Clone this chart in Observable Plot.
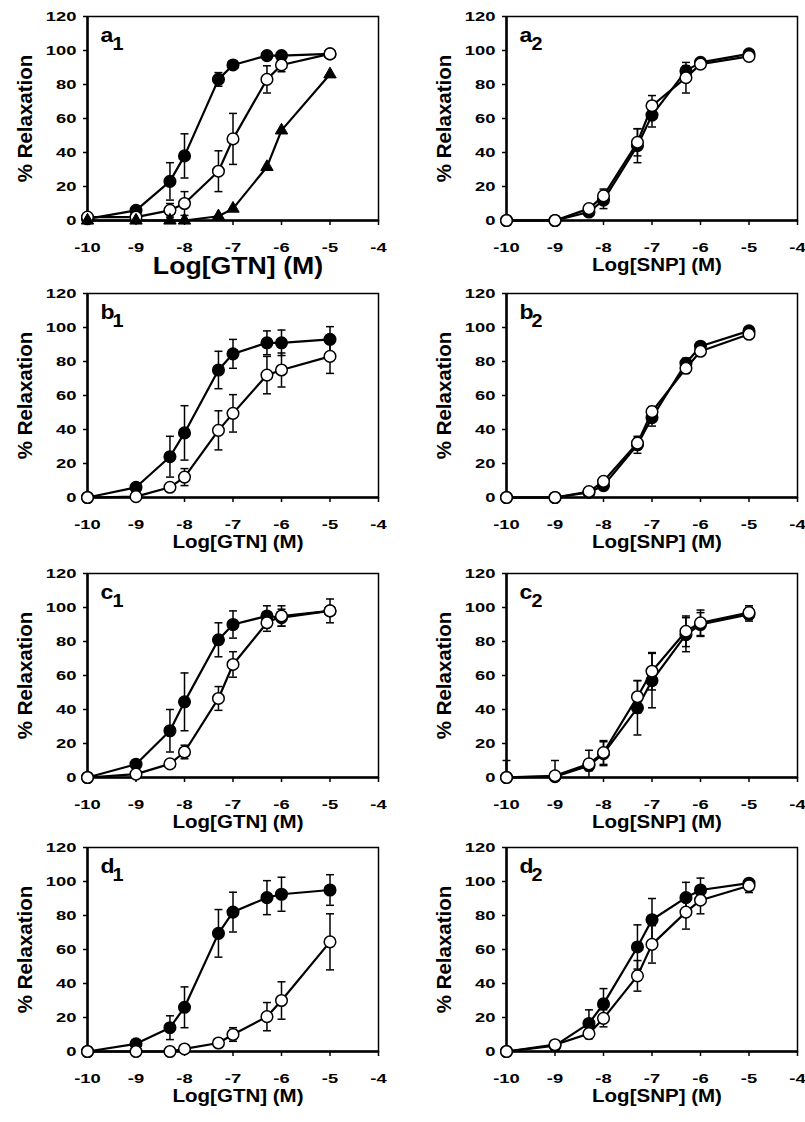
<!DOCTYPE html>
<html><head><meta charset="utf-8">
<script src="https://cdn.jsdelivr.net/npm/d3@7"></script>
<script src="https://cdn.jsdelivr.net/npm/@observablehq/plot@0.6"></script>
<style>
html,body{margin:0;padding:0;background:#fff;}
#fig{position:relative;width:805px;height:1122px;overflow:hidden;background:#fff;}
.panel{position:absolute;}
.panel svg{overflow:visible;background:transparent !important;max-width:none !important;}
</style></head><body><div id="fig"></div>
<script>
// ---- shared values ----
const doses = [-10, -9, -8.3, -8, -7.3, -7, -6.3, -6, -5];
const xTicks = [-10, -9, -8, -7, -6, -5, -4];
const yTicks = [0, 20, 40, 60, 80, 100, 120];
const drugs = ["GTN", "SNP"];
const letters = ["a", "b", "c", "d"];

// ---- GTN panels (column 1) ----
const a1Filled    = [1, 6, 23, 38, 83, 91.5, 97, 97, 98];
const a1FilledSem = [0, 1, 11, 13, 4, 2, 2, 2, 1];
const a1Open      = [2, 2, 6, 10, 29, 48, 83, 91.5, 98];
const a1OpenSem   = [0, 1, 4, 7, 12, 15, 8, 4, 1];
const a1Triangle  = [0, 0, 0, 0, 2.5, 7, 31.5, 53, 86];

const b1Filled    = [0, 6, 24, 38, 75, 84.5, 91, 91, 93];
const b1FilledSem = [0, 1, 12, 16, 11, 8.5, 7, 7.5, 7.5];
const b1Open      = [0, 0.5, 6, 12, 39.5, 49.5, 72, 75, 83];
const b1OpenSem   = [0, 0, 1, 5, 11.5, 11, 11, 10, 10];

const c1Filled    = [0, 7.8, 27.5, 44.5, 81, 90, 95, 94, 98];
const c1FilledSem = [0, 1, 12.5, 17, 10, 8, 6, 5, 2];
const c1Open      = [0, 2, 8, 15, 46.5, 66.5, 91, 95, 98];
const c1OpenSem   = [0, 1, 2, 4, 7, 7.5, 5, 6, 7];

const d1Filled    = [0, 4.5, 14, 26, 69.5, 82, 90.5, 92.5, 95];
const d1FilledSem = [0, 1, 7, 12, 14, 11.7, 10, 10, 9];
const d1Open      = [0, 0, 0, 1.5, 5, 10, 20.5, 30, 64.5];
const d1OpenSem   = [0, 0, 0, 1, 2, 4, 8.3, 11, 16.5];

// ---- SNP panels (column 2) ----
const a2Filled    = [0, 0, 5, 12, 44, 62, 88, 93, 98];
const a2FilledSem = [0, 0, 2, 5, 10, 7, 3, 2, 1];
const a2Open      = [0, 0, 7, 14.5, 46, 67.5, 84, 92, 96.5];
const a2OpenSem   = [0, 0, 1, 4, 8, 6, 9, 2, 1];

const b2Filled    = [0, 0, 3, 7, 31, 47, 79, 89, 98];
const b2FilledSem = [0, 0, 1, 2, 5, 5, 3, 2, 1];
const b2Open      = [0, 0, 3.5, 9.5, 32, 50.5, 76, 86, 96];
const b2OpenSem   = [0, 0, 1, 2, 3, 3, 3, 2, 1];

const c2Filled    = [0, 0.5, 7, 14, 41, 57, 84, 90, 96];
const c2FilledSem = [0, 0, 3, 7, 16, 16, 10, 7, 4];
const c2Open      = [0, 1, 8, 14.7, 47.5, 62.5, 86, 91, 97];
const c2OpenSem   = [10, 9, 8, 7, 9.5, 11, 9, 7.5, 4];

const d2Filled    = [0, 3.5, 16.5, 28, 61.5, 77.5, 90.5, 95, 99];
const d2FilledSem = [0, 1, 8, 9, 13, 12.5, 9, 7, 2];
const d2Open      = [0, 4, 10.5, 19.5, 44.5, 63, 82, 89, 97.5];
const d2OpenSem   = [0, 1, 3, 5, 9, 11, 10, 8, 4];

const panels = [
  {row:0,col:0,filled:a1Filled,filledSem:a1FilledSem,open:a1Open,openSem:a1OpenSem,tri:a1Triangle},
  {row:1,col:0,filled:b1Filled,filledSem:b1FilledSem,open:b1Open,openSem:b1OpenSem},
  {row:2,col:0,filled:c1Filled,filledSem:c1FilledSem,open:c1Open,openSem:c1OpenSem},
  {row:3,col:0,filled:d1Filled,filledSem:d1FilledSem,open:d1Open,openSem:d1OpenSem},
  {row:0,col:1,filled:a2Filled,filledSem:a2FilledSem,open:a2Open,openSem:a2OpenSem},
  {row:1,col:1,filled:b2Filled,filledSem:b2FilledSem,open:b2Open,openSem:b2OpenSem},
  {row:2,col:1,filled:c2Filled,filledSem:c2FilledSem,open:c2Open,openSem:c2OpenSem},
  {row:3,col:1,filled:d2Filled,filledSem:d2FilledSem,open:d2Open,openSem:d2OpenSem}
];

const rowTop = [0, 277, 557, 831];
const colLeft = [0, 419];
const colWidth = [400, 386];
const colMarginRight = [22, 8];
const FONT = "'Liberation Sans', Arial, Helvetica, sans-serif";

const capSymbol = { draw(ctx) { ctx.moveTo(-4, 0); ctx.lineTo(4, 0); } };

function series(vals, sems) {
  return doses.map((x, i) => ({x, y: vals[i], sem: sems ? sems[i] : 0}));
}

function errMarks(data) {
  const e = data.filter(d => d.sem > 0);
  const lo = e.filter(d => d.y - d.sem > 0);
  return [
    Plot.ruleX(e, {x: "x", y1: d => Math.max(0, d.y - d.sem), y2: d => d.y + d.sem, stroke: "black", strokeWidth: 1.5}),
    Plot.dot(e, {x: "x", y: d => d.y + d.sem, symbol: capSymbol, stroke: "black", strokeWidth: 1.5, fill: "none"}),
    Plot.dot(lo, {x: "x", y: d => d.y - d.sem, symbol: capSymbol, stroke: "black", strokeWidth: 1.5, fill: "none"})
  ];
}

// widen text horizontally around its own anchor point (keeps em-based y offsets)
function widen(t, k) {
  const xs = t.getAttribute("x");
  let tr = t.getAttribute("transform") || "";
  if (xs !== null && /^-?[\d.]+$/.test(xs)) {
    tr = `${tr} translate(${xs},0)`;
    t.removeAttribute("x");
  }
  t.setAttribute("transform", `${tr} scale(${k},1)`.trim());
}

function stretch(svg, isBig) {
  svg.querySelectorAll("text").forEach(t => {
    const txt = t.textContent;
    const pl = (t.parentNode.getAttribute("aria-label") || "");
    let k = 1;
    if (pl.includes("tick label")) k = 1.36;
    else if (txt.startsWith("Log[")) k = isBig ? 1.16 : 1.08;
    else if (/^[a-d]$/.test(txt)) k = 1.15;
    else if (/^[12]$/.test(txt)) k = 1.1;
    if (k !== 1) widen(t, k);
  });
}

const fig = document.getElementById("fig");
panels.forEach(p => {
  const filled = series(p.filled, p.filledSem);
  const open = series(p.open, p.openSem);
  const tri = p.tri ? series(p.tri) : null;
  const drug = drugs[p.col];
  const isBig = p.row === 0 && p.col === 0;
  const marks = [
    Plot.frame({stroke: "black", strokeWidth: 1.5}),
    Plot.ruleX([xTicks[0]], {stroke: "black", strokeWidth: 2.5}),
    Plot.ruleY([yTicks[0]], {stroke: "black", strokeWidth: 2.5}),
    Plot.axisX({ticks: xTicks, tickSize: 5, tickPadding: 17, tickFormat: d => String(d), strokeWidth: 1.5, fontSize: 13.5, fontWeight: "bold", label: null}),
    Plot.axisY({ticks: yTicks, tickSize: 4, tickPadding: 7, tickFormat: d => String(d), strokeWidth: 1.5, fontSize: 13.5, fontWeight: "bold", label: null}),
    ...errMarks(filled),
    ...errMarks(open),
    Plot.line(filled, {x: "x", y: "y", stroke: "black", strokeWidth: 2.2}),
    Plot.line(open, {x: "x", y: "y", stroke: "black", strokeWidth: 2.2}),
    tri ? Plot.line(tri, {x: "x", y: "y", stroke: "black", strokeWidth: 2.2}) : null,
    Plot.dot(filled, {x: "x", y: "y", r: 5.8, fill: "black", stroke: "black", strokeWidth: 1.5}),
    Plot.dot(open, {x: "x", y: "y", r: 5.8, fill: "white", stroke: "black", strokeWidth: 1.5}),
    tri ? Plot.dot(tri, {x: "x", y: "y", r: 4.6, symbol: "triangle", fill: "black", stroke: "black", strokeWidth: 1}) : null,
    Plot.text(["% Relaxation"], {frameAnchor: "left", dx: -62, rotate: -90, textAnchor: "middle", lineAnchor: "middle", fontSize: 20.5, fontWeight: "bold", fill: "black"}),
    Plot.text([`Log[${drug}] (M)`], {frameAnchor: "bottom", dx: 5, dy: isBig ? 46 : 44, textAnchor: "middle", lineAnchor: "middle", fontSize: isBig ? 23 : 19, fontWeight: "bold", fill: "black"}),
    Plot.text([letters[p.row]], {frameAnchor: "top-left", dx: 13, dy: 25, textAnchor: "start", lineAnchor: "bottom", fontSize: 20, fontWeight: "bold", fill: "black"}),
    Plot.text([String(p.col + 1)], {frameAnchor: "top-left", dx: 25, dy: 33, textAnchor: "start", lineAnchor: "bottom", fontSize: 18, fontWeight: "bold", fill: "black"})
  ].filter(Boolean);

  const chart = Plot.plot({
    width: colWidth[p.col],
    height: 280,
    marginLeft: 87,
    marginRight: colMarginRight[p.col],
    marginTop: 16,
    marginBottom: 60,
    x: {domain: [xTicks[0], xTicks[xTicks.length - 1]]},
    y: {domain: [yTicks[0], yTicks[yTicks.length - 1]]},
    style: {fontFamily: FONT, fontSize: "13.5px", fontWeight: "bold", color: "black", background: "transparent", overflow: "visible"},
    marks
  });
  const div = document.createElement("div");
  div.className = "panel";
  div.style.left = colLeft[p.col] + "px";
  div.style.top = rowTop[p.row] + "px";
  div.appendChild(chart);
  fig.appendChild(div);
  stretch(chart, isBig);
});
</script></body></html>
